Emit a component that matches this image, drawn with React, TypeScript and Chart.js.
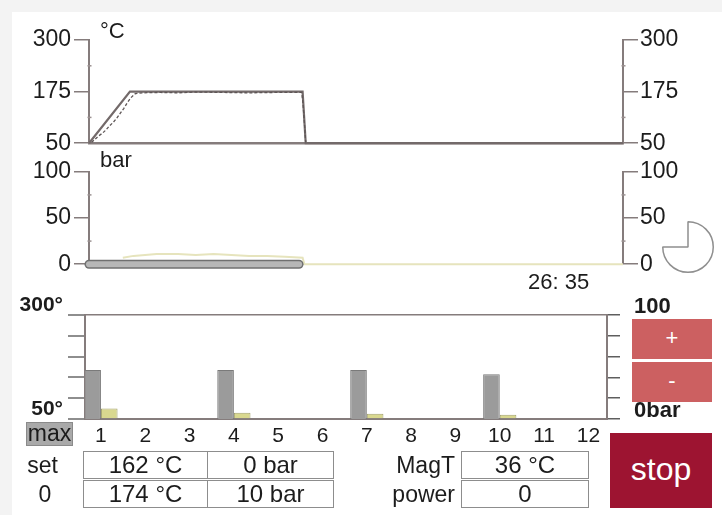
import React, { useEffect, useRef } from 'react';
import { Chart, registerables } from 'chart.js';
Chart.register(...registerables);

const FONT = '"Liberation Sans", Arial, Helvetica, sans-serif';
const AXIS = '#857c7c';
const TEXT = '#1c1c1c';

// ---- Temperature trace (time in minutes) ----
const tempSetTime = [0, 4.6, 24.0, 24.35, 60];
const tempSetValue = [50, 175, 175, 50, 50];
const tempMeasTime = [0.3, 0.7, 1.1, 1.5, 1.9, 2.3, 2.7, 3.1, 3.5, 3.9, 4.3, 4.7, 5.2, 6.0, 8.0, 10.0, 12.0, 15.0, 18.0, 21.0, 23.9, 24.05, 24.2, 24.35];
const tempMeasValue = [52, 60, 68, 74, 82, 92, 100, 110, 122, 134, 148, 160, 170, 172, 173, 172, 174, 173, 172, 173, 173, 145, 100, 52];
const tempTicks = [50, 175, 300];
const tempMinor = [112.5, 237.5];

// ---- Pressure trace ----
const pressTime = [0, 23.6];
const pressValue = [0, 0];
const pressMeasTime = [3.8, 5, 7.6, 10, 12, 14, 16, 18, 20, 22, 24, 24.2, 60];
const pressMeasValue = [7, 9, 11, 11, 10, 11, 10, 9, 9, 8, 7, 0, 0];
const pressTicks = [0, 50, 100];
const pressMinor = [25, 75];

// ---- Step bars ----
const slotNumbers = [1, 2, 3, 4, 5, 6, 7, 8, 9, 10, 11, 12];
const slotTempMax = [168, null, null, 168, null, null, 168, null, null, 158, null, null];
const slotPressMax = [10, null, null, 6, null, null, 5, null, null, 4, null, null];
const slotTempTicks = [50, 100, 150, 200, 250, 300];
const slotPressTicks = [0, 20, 40, 60, 80, 100];

// ---- Cycle indicator ----
const cycleShare = [75, 25];

const minorTicks = {
  id: 'minorTicks',
  afterDraw(chart: any, _args: any, opts: any) {
    const ctx = chart.ctx;
    ctx.save();
    ctx.strokeStyle = '#9a9090';
    ctx.lineWidth = 1.5;
    (opts.items || []).forEach((it: any) => {
      const s = chart.scales[it.axis];
      const x = it.side === 'left' ? s.right : s.left;
      it.values.forEach((v: number) => {
        const y = s.getPixelForValue(v);
        ctx.beginPath();
        ctx.moveTo(x - 1.5, y);
        ctx.lineTo(x + 2.5, y);
        ctx.stroke();
      });
    });
    ctx.restore();
  },
};

const toXY = (xs: number[], ys: (number | null)[]) => xs.map((x, i) => ({ x, y: ys[i] }));

function trendOptions(min: number, max: number, ticks: number[], minor: number[], showX: boolean, padTop: number, padBottom: number) {
  const tickFont = { family: FONT, size: 23 };
  const yBase = (side: 'left' | 'right') => ({
    type: 'linear',
    position: side,
    min,
    max,
    afterBuildTicks: (s: any) => { s.ticks = ticks.map((v) => ({ value: v })); },
    afterFit: (s: any) => { s.width = side === 'left' ? 89 : 99; },
    grid: { drawOnChartArea: false, color: AXIS, tickLength: 15, lineWidth: 1.5 },
    border: { color: AXIS, width: 2 },
    ticks: { font: tickFont, color: TEXT, padding: side === 'left' ? 3 : 2, autoSkip: false },
  });
  return {
    animation: false,
    responsive: false,
    maintainAspectRatio: false,
    layout: { padding: { top: padTop, bottom: padBottom, left: 0, right: 0 } },
    plugins: {
      legend: { display: false },
      tooltip: { enabled: false },
      minorTicks: { items: [{ axis: 'y', side: 'left', values: minor }, { axis: 'y2', side: 'right', values: minor }] },
    },
    scales: {
      x: {
        type: 'linear', min: 0, max: 60, display: showX,
        ticks: { display: false }, grid: { display: false, drawTicks: false },
        border: { color: AXIS, width: 2.5 },
        afterFit: (s: any) => { s.height = 0; },
      },
      y: yBase('left'),
      y2: yBase('right'),
    },
  };
}

function Label({ x, cy, size, text, align = 'left', w = 120, bold = false, color = TEXT }: any) {
  const left = align === 'left' ? x : align === 'right' ? x - w : x - w / 2;
  return (
    <div style={{ position: 'absolute', left, top: cy - size / 2, width: w, height: size, lineHeight: size + 'px', fontSize: size, fontFamily: FONT, fontWeight: bold ? 700 : 400, color, textAlign: align, whiteSpace: 'nowrap' }}>{text}</div>
  );
}

function Box({ x, y, w, h, text, size = 24, bg = '#fff', color = TEXT, border = '1.5px solid #8d8d8d' }: any) {
  return (
    <div style={{ position: 'absolute', left: x, top: y, width: w, height: h, boxSizing: 'border-box', border, background: bg, color, fontFamily: FONT, fontSize: size, lineHeight: (h - 3) + 'px', textAlign: 'center', whiteSpace: 'nowrap' }}>{text}</div>
  );
}

export default function App() {
  const tRef = useRef<HTMLCanvasElement>(null);
  const pRef = useRef<HTMLCanvasElement>(null);
  const bRef = useRef<HTMLCanvasElement>(null);
  const cRef = useRef<HTMLCanvasElement>(null);

  useEffect(() => {
    const charts: Chart[] = [];
    const lineDs = { pointRadius: 0, tension: 0, clip: false as any, fill: false };

    charts.push(new Chart(tRef.current!, {
      type: 'line',
      data: {
        datasets: [
          { ...lineDs, data: toXY(tempSetTime, tempSetValue), borderColor: '#736a6a', borderWidth: 2.2, yAxisID: 'y', order: 2 },
          { ...lineDs, data: toXY(tempMeasTime, tempMeasValue), borderColor: '#5e5656', borderWidth: 1.3, borderDash: [3, 2], yAxisID: 'y', order: 1 },
        ],
      },
      options: trendOptions(50, 300, tempTicks, tempMinor, true, 20, 0) as any,
      plugins: [minorTicks],
    }));

    charts.push(new Chart(pRef.current!, {
      type: 'line',
      data: {
        datasets: [
          { ...lineDs, data: toXY(pressMeasTime, pressMeasValue), borderColor: '#e6e4bd', borderWidth: 2, yAxisID: 'y', order: 3 },
          { ...lineDs, data: toXY(pressTime, pressValue), borderColor: '#707070', borderWidth: 9, borderCapStyle: 'round', yAxisID: 'y', order: 2 },
          { ...lineDs, data: toXY(pressTime, pressValue), borderColor: '#b7b7b7', borderWidth: 6, borderCapStyle: 'round', yAxisID: 'y', order: 1 },
        ],
      },
      options: trendOptions(0, 100, pressTicks, pressMinor, false, 0, 0) as any,
      plugins: [minorTicks],
    }));

    charts.push(new Chart(bRef.current!, {
      type: 'bar',
      data: {
        datasets: [
          { data: toXY(slotNumbers, slotTempMax), yAxisID: 'yT', backgroundColor: '#9b9b9b', borderColor: '#7a7a7a', borderWidth: 1, categoryPercentage: 0.75, barPercentage: 1 },
          { data: toXY(slotNumbers, slotPressMax), yAxisID: 'yP', backgroundColor: '#d9d88f', borderColor: '#a3a26c', borderWidth: 1, categoryPercentage: 0.75, barPercentage: 1 },
        ],
      },
      options: {
        animation: false,
        responsive: false,
        maintainAspectRatio: false,
        layout: { padding: { top: 25, left: 0, right: 0, bottom: 0 } },
        plugins: { legend: { display: false }, tooltip: { enabled: false } },
        scales: {
          x: {
            type: 'linear', position: 'bottom', min: 0.64, max: 12.42, offset: false,
            afterBuildTicks: (s: any) => { s.ticks = slotNumbers.map((v) => ({ value: v })); },
            grid: { display: false, drawTicks: false },
            border: { color: AXIS, width: 2 },
            ticks: { font: { family: FONT, size: 21 }, color: TEXT, padding: 5, maxRotation: 0, autoSkip: false, callback: (v: any) => String(v) },
            afterFit: (s: any) => { s.height = 31; },
          },
          xTop: {
            type: 'linear', position: 'top', min: 0.64, max: 12.42,
            grid: { display: false, drawTicks: false }, ticks: { display: false },
            border: { color: AXIS, width: 1.5 },
            afterFit: (s: any) => { s.height = 0; },
          },
          yT: {
            position: 'left', min: 50, max: 300,
            afterBuildTicks: (s: any) => { s.ticks = slotTempTicks.map((v) => ({ value: v })); },
            ticks: { autoSkip: false, callback: (v: any) => (v === 300 ? '300°' : v === 50 ? '50°' : ''), font: { family: FONT, size: 21, weight: 'bold' }, color: TEXT, padding: 5, labelOffset: -10 },
            grid: { drawOnChartArea: false, tickLength: 17, color: '#8e8e8e', lineWidth: 2 },
            border: { color: AXIS, width: 2 },
            afterFit: (s: any) => { s.width = 85; },
          },
          yP: {
            position: 'right', min: 0, max: 100,
            afterBuildTicks: (s: any) => { s.ticks = slotPressTicks.map((v) => ({ value: v })); },
            ticks: { autoSkip: false, callback: (v: any) => (v === 100 ? '100' : v === 0 ? '0bar' : ''), font: { family: FONT, size: 22, weight: 'bold' }, color: TEXT, padding: 14, labelOffset: -8 },
            grid: { drawOnChartArea: false, tickLength: 13, color: '#5e5e5e', lineWidth: 1.5 },
            border: { color: AXIS, width: 2 },
            afterFit: (s: any) => { s.width = 115; },
          },
        },
      } as any,
    }));

    charts.push(new Chart(cRef.current!, {
      type: 'pie',
      data: {
        datasets: [{
          data: cycleShare,
          backgroundColor: ['#ffffff', 'rgba(0,0,0,0)'],
          borderColor: ['#8f8f8f', 'rgba(0,0,0,0)'],
          borderWidth: 1.5,
        }],
      },
      options: {
        animation: false, responsive: false, maintainAspectRatio: false,
        layout: { padding: 5 },
        plugins: { legend: { display: false }, tooltip: { enabled: false } },
      } as any,
    }));

    return () => charts.forEach((c) => c.destroy());
  }, []);

  const cv = (top: number, left: number, w: number, h: number) => ({ position: 'absolute' as const, left, top, width: w, height: h, display: 'block' });

  return (
    <div style={{ position: 'fixed', left: 0, top: 0, width: 722, height: 515, background: '#f3f3f3', overflow: 'hidden', fontFamily: FONT }}>
      <div style={{ position: 'absolute', left: 12, top: 12, right: 0, bottom: 0, background: '#ffffff' }} />
      <canvas ref={tRef} width={722} height={140} style={cv(20, 0, 722, 140)} />
      <canvas ref={pRef} width={722} height={126} style={cv(155, 0, 722, 126)} />
      <canvas ref={bRef} width={722} height={162} style={cv(288, 0, 722, 162)} />
      <canvas ref={cRef} width={62} height={62} style={cv(216, 657, 62, 62)} />

      <Label x={100} cy={31} size={22} text="°C" />
      <Label x={100} cy={160} size={22} text="bar" />
      <Label x={528} cy={282} size={22} text="26: 35" />

      <Box x={26} y={422} w={47} h={24} text="max" size={23} bg="#a9a9a9" border="1.5px solid #8a8a8a" />

      <Label x={42.5} cy={465} size={23} text="set" align="center" w={60} />
      <Label x={45} cy={494} size={23} text="0" align="center" w={40} />
      <Box x={83} y={451} w={125} h={28} text="162 °C" />
      <Box x={207} y={451} w={127} h={28} text="0 bar" />
      <Box x={83} y={480} w={125} h={28} text="174 °C" />
      <Box x={207} y={480} w={127} h={28} text="10 bar" />

      <Label x={455} cy={465} size={23} text="MagT" align="right" />
      <Label x={455} cy={494} size={23} text="power" align="right" />
      <Box x={461} y={451} w={128} h={28} text="36 °C" />
      <Box x={461} y={480} w={128} h={28} text="0" />

      <Box x={632} y={319} w={80} h={40} text="+" size={22} bg="#cc6061" color="#ffffff" border="none" />
      <Box x={632} y={362} w={80} h={40} text="-" size={22} bg="#cc6061" color="#ffffff" border="none" />
      <Box x={610} y={433} w={102} h={75} text="stop" size={32} bg="#9d1431" color="#ffffff" border="none" />
    </div>
  );
}
